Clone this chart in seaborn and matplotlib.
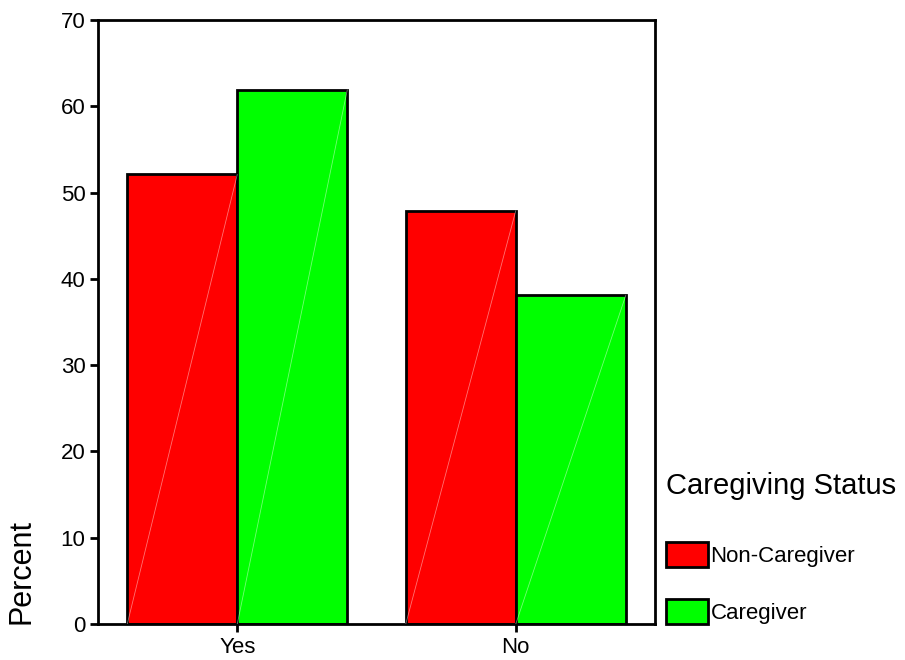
import matplotlib
matplotlib.use("Agg")
import matplotlib.pyplot as plt
import pandas as pd
import seaborn as sns

# valores (porcentaje dentro de cada grupo)
respuestas = ["Yes", "No"]
estados = ["Non-Caregiver", "Caregiver"]
non_caregiver = [52.1, 47.9]
caregiver = [61.9, 38.1]
yticks = [0, 10, 20, 30, 40, 50, 60, 70]

df = pd.DataFrame({
    "respuesta": respuestas * 2,
    "estado": [estados[0]] * 2 + [estados[1]] * 2,
    "pct": non_caregiver + caregiver,
})

sns.set_style("white")
plt.rcParams["font.family"] = ["Liberation Sans", "DejaVu Sans"]
plt.rcParams["text.color"] = "black"
plt.rcParams["axes.labelcolor"] = "black"

fig = plt.figure(figsize=(9.05, 6.6), dpi=100)
ax = fig.add_axes([0.1083, 0.0545, 0.6155, 0.9152])

sns.barplot(data=df, x="respuesta", y="pct", hue="estado", order=respuestas,
            hue_order=estados, palette=["#ff0000", "#00ff00"], width=0.79,
            edgecolor="black", linewidth=2, saturation=1, ax=ax)

# linea diagonal tenue que deja el grafico original dentro de cada barra
for p in ax.patches:
    if p.get_height() > 0:
        x0, w, h = p.get_x(), p.get_width(), p.get_height()
        ax.plot([x0, x0 + w], [0, h], color="white", lw=0.6, alpha=0.45, zorder=3)

ax.set_xlim(-0.5, 1.5)
ax.set_ylim(0, 70)
ax.set_yticks(yticks)
ax.set_xlabel("")
ax.set_ylabel("")
for s in ax.spines.values():
    s.set_visible(True)
    s.set_color("black")
    s.set_linewidth(2)
ax.tick_params(axis="both", which="major", direction="out", length=6, width=2,
               labelsize=16, colors="black", pad=3, bottom=True, left=True,
               top=False, right=False)

fig.text(22 / 905, 1 - 572 / 660, "Percent", rotation=90, fontsize=22,
         ha="center", va="center")

ax.get_legend().remove()
handles, labels = ax.get_legend_handles_labels()
leg = fig.legend(handles, labels, title="Caregiving Status", loc="upper left",
                 bbox_to_anchor=(666 / 905, 1 - 472 / 660), frameon=False,
                 fontsize=16, title_fontsize=21, handlelength=1.9,
                 handleheight=1.35, handletextpad=0.1, labelspacing=1.45,
                 borderpad=0, borderaxespad=0, alignment="left")
leg._legend_box.sep = 30

fig.savefig("out.png", dpi=100)
